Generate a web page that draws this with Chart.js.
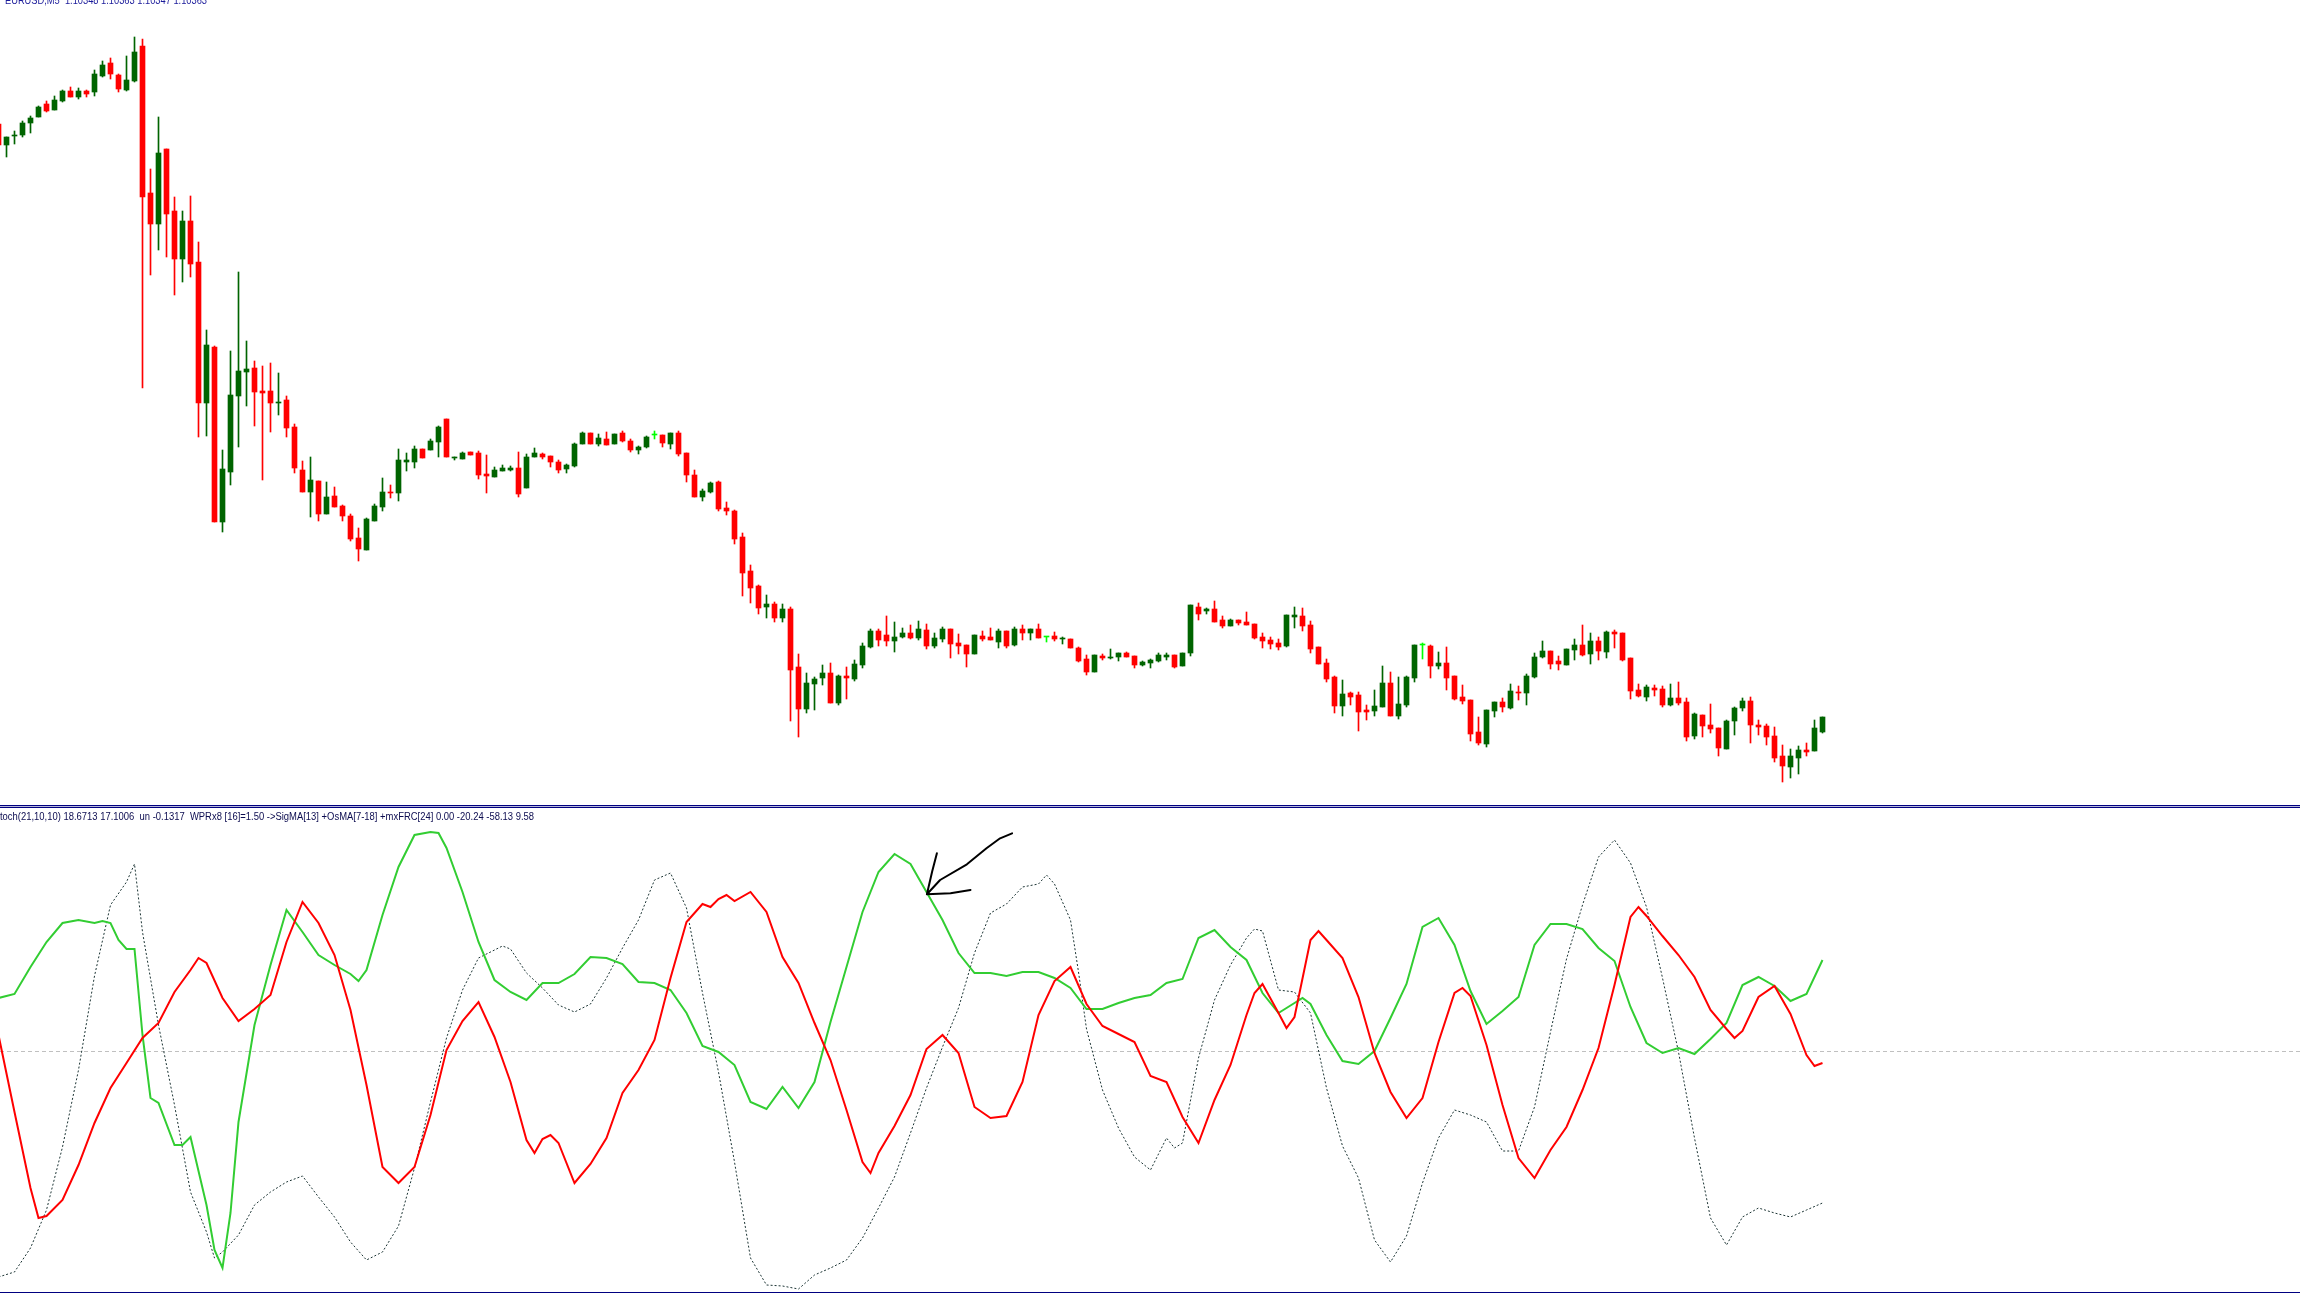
<!DOCTYPE html>
<html>
<head>
<meta charset="utf-8">
<script src="https://cdn.jsdelivr.net/npm/chart.js"></script>
<style>
  html, body { margin: 0; padding: 0; background: #ffffff; }
  body { width: 2300px; height: 1294px; position: relative; overflow: hidden; }
  canvas { position: absolute; left: 0; }
  #price { top: 0; }
  #osc { top: 808px; }
  .label { position: absolute; font-family: "Liberation Sans", Arial, sans-serif; font-size: 10px; line-height: 10px; white-space: pre; transform-origin: 0 0; }
  #priceLabel { left: 5px; top: -4px; color: #1a1a9a; }
  #oscLabel { left: 0; top: 812px; color: #0c0c50; }
  .rule { position: absolute; left: 0; width: 2300px; height: 1px; background: #000080; }
</style>
</head>
<body>
<canvas id="price" width="2300" height="804"></canvas>
<div class="rule" style="top:805px"></div>
<div class="rule" style="top:806px;background:#b8b8d8"></div>
<div class="rule" style="top:807px"></div>
<canvas id="osc" width="2300" height="484"></canvas>
<div class="rule" style="top:1292px"></div>
<div class="label" id="priceLabel">EURUSD,M5  1.10348 1.10363 1.10347 1.10363</div>
<div class="label" id="oscLabel">toch(21,10,10) 18.6713 17.1006  un -0.1317  WPRx8 [16]=1.50 -&gt;SigMA[13] +OsMA[7-18] +mxFRC[24] 0.00 -20.24 -58.13 9.58</div>
<script>
// EURUSD M5 candles, one entry per bar
var open = [1.10956,1.10935,1.10944,1.10945,1.10957,1.10963,1.10976,1.10970,1.10979,1.10989,
1.10983,1.10989,1.10988,1.11004,1.11017,1.11005,1.10990,1.10999,1.11034,1.10887,
1.10856,1.10931,1.10869,1.10821,1.10859,1.10818,1.10677,1.10733,1.10558,1.10608,
1.10684,1.10708,1.10712,1.10689,1.10689,1.10677,1.10680,1.10653,1.10610,1.10588,
1.10599,1.10566,1.10584,1.10574,1.10564,1.10542,1.10530,1.10559,1.10573,1.10588,
1.10587,1.10618,1.10618,1.10631,1.10630,1.10638,1.10661,1.10622,1.10621,1.10628,
1.10627,1.10606,1.10603,1.10609,1.10610,1.10612,1.10592,1.10623,1.10626,1.10624,
1.10618,1.10611,1.10614,1.10636,1.10647,1.10636,1.10641,1.10636,1.10647,1.10639,
1.10630,1.10633,1.10645,1.10645,1.10636,1.10647,1.10627,1.10605,1.10583,1.10588,
1.10598,1.10572,1.10569,1.10543,1.10509,1.10494,1.10473,1.10476,1.10462,1.10471,
1.10413,1.10371,1.10396,1.10402,1.10407,1.10377,1.10404,1.10401,1.10415,1.10433,
1.10449,1.10445,1.10439,1.10443,1.10447,1.10442,1.10450,1.10434,1.10441,1.10451,
1.10437,1.10435,1.10426,1.10444,1.10443,1.10438,1.10449,1.10435,1.10451,1.10447,
1.10451,1.10443,1.10444,1.10441,1.10441,1.10432,1.10421,1.10408,1.10424,1.10422,
1.10423,1.10427,1.10424,1.10415,1.10417,1.10419,1.10423,1.10425,1.10414,1.10427,
1.10473,1.10469,1.10471,1.10460,1.10454,1.10460,1.10458,1.10456,1.10443,1.10440,
1.10437,1.10434,1.10463,1.10464,1.10455,1.10433,1.10417,1.10403,1.10374,1.10387,
1.10385,1.10370,1.10369,1.10373,1.10397,1.10364,1.10375,1.10402,1.10435,1.10434,
1.10414,1.10417,1.10404,1.10383,1.10380,1.10348,1.10336,1.10369,1.10378,1.10372,
1.10388,1.10387,1.10403,1.10423,1.10429,1.10419,1.10415,1.10430,1.10435,1.10426,
1.10439,1.10428,1.10448,1.10447,1.10422,1.10390,1.10383,1.10392,1.10391,1.10375,
1.10382,1.10378,1.10344,1.10365,1.10355,1.10352,1.10331,1.10359,1.10372,1.10379,
1.10355,1.10354,1.10344,1.10324,1.10313,1.10322,1.10330,1.10329,1.10348];

var high = [1.10958,1.10943,1.10949,1.10959,1.10964,1.10974,1.10979,1.10984,1.10990,1.10993,
1.10992,1.10990,1.11010,1.11019,1.11022,1.11006,1.11024,1.11043,1.11041,1.10911,
1.10963,1.10931,1.10883,1.10869,1.10884,1.10838,1.10750,1.10734,1.10630,1.10729,
1.10808,1.10739,1.10719,1.10714,1.10717,1.10707,1.10684,1.10656,1.10619,1.10623,
1.10599,1.10598,1.10593,1.10575,1.10566,1.10552,1.10562,1.10576,1.10602,1.10595,
1.10631,1.10627,1.10634,1.10631,1.10641,1.10654,1.10661,1.10623,1.10628,1.10628,
1.10629,1.10625,1.10613,1.10615,1.10614,1.10628,1.10626,1.10632,1.10627,1.10624,
1.10620,1.10616,1.10637,1.10648,1.10647,1.10646,1.10648,1.10646,1.10649,1.10641,
1.10634,1.10644,1.10649,1.10645,1.10647,1.10649,1.10627,1.10610,1.10591,1.10598,
1.10599,1.10578,1.10570,1.10547,1.10515,1.10495,1.10485,1.10478,1.10476,1.10473,
1.10426,1.10407,1.10403,1.10415,1.10417,1.10405,1.10413,1.10420,1.10437,1.10451,
1.10451,1.10464,1.10458,1.10452,1.10455,1.10459,1.10456,1.10447,1.10453,1.10451,
1.10446,1.10435,1.10445,1.10449,1.10452,1.10451,1.10449,1.10453,1.10455,1.10451,
1.10456,1.10443,1.10448,1.10443,1.10441,1.10433,1.10425,1.10425,1.10426,1.10431,
1.10427,1.10428,1.10424,1.10419,1.10421,1.10427,1.10427,1.10425,1.10427,1.10475,
1.10477,1.10472,1.10479,1.10464,1.10461,1.10460,1.10468,1.10456,1.10447,1.10443,
1.10441,1.10465,1.10473,1.10472,1.10459,1.10433,1.10421,1.10404,1.10400,1.10388,
1.10388,1.10375,1.10390,1.10414,1.10408,1.10403,1.10404,1.10435,1.10437,1.10435,
1.10428,1.10433,1.10404,1.10395,1.10380,1.10363,1.10370,1.10378,1.10382,1.10396,
1.10394,1.10406,1.10427,1.10439,1.10429,1.10424,1.10431,1.10441,1.10455,1.10447,
1.10443,1.10449,1.10450,1.10447,1.10422,1.10396,1.10395,1.10395,1.10394,1.10396,
1.10398,1.10382,1.10367,1.10365,1.10376,1.10352,1.10360,1.10373,1.10382,1.10383,
1.10360,1.10356,1.10353,1.10335,1.10331,1.10334,1.10337,1.10360,1.10363];

var low = [1.10933,1.10923,1.10936,1.10943,1.10947,1.10963,1.10968,1.10970,1.10978,1.10983,
1.10981,1.10983,1.10984,1.11003,1.11001,1.10988,1.10989,1.10998,1.10692,1.10805,
1.10830,1.10823,1.10785,1.10798,1.10803,1.10643,1.10644,1.10558,1.10548,1.10595,
1.10633,1.10674,1.10654,1.10600,1.10648,1.10665,1.10643,1.10607,1.10588,1.10563,
1.10559,1.10566,1.10573,1.10559,1.10539,1.10519,1.10530,1.10559,1.10569,1.10582,
1.10579,1.10609,1.10612,1.10622,1.10630,1.10623,1.10623,1.10620,1.10621,1.10625,
1.10601,1.10587,1.10603,1.10609,1.10609,1.10583,1.10592,1.10623,1.10621,1.10613,
1.10607,1.10607,1.10613,1.10636,1.10636,1.10634,1.10635,1.10636,1.10638,1.10628,
1.10626,1.10632,1.10641,1.10633,1.10631,1.10624,1.10598,1.10583,1.10579,1.10587,
1.10569,1.10565,1.10536,1.10484,1.10477,1.10466,1.10462,1.10458,1.10458,1.10359,
1.10343,1.10367,1.10370,1.10395,1.10377,1.10375,1.10381,1.10399,1.10412,1.10432,
1.10434,1.10434,1.10428,1.10442,1.10441,1.10440,1.10431,1.10432,1.10438,1.10422,
1.10426,1.10413,1.10426,1.10439,1.10440,1.10432,1.10432,1.10434,1.10440,1.10440,
1.10442,1.10438,1.10439,1.10436,1.10432,1.10418,1.10405,1.10408,1.10420,1.10421,
1.10419,1.10423,1.10412,1.10414,1.10412,1.10418,1.10420,1.10412,1.10414,1.10424,
1.10460,1.10466,1.10458,1.10452,1.10454,1.10455,1.10455,1.10441,1.10432,1.10431,
1.10430,1.10433,1.10452,1.10449,1.10427,1.10416,1.10398,1.10367,1.10364,1.10375,
1.10349,1.10360,1.10364,1.10373,1.10364,1.10361,1.10373,1.10398,1.10421,1.10402,
1.10411,1.10390,1.10380,1.10376,1.10339,1.10335,1.10333,1.10363,1.10368,1.10371,
1.10380,1.10375,1.10402,1.10422,1.10411,1.10410,1.10415,1.10420,1.10424,1.10416,
1.10420,1.10422,1.10432,1.10419,1.10381,1.10383,1.10379,1.10384,1.10373,1.10374,
1.10375,1.10339,1.10341,1.10343,1.10347,1.10324,1.10331,1.10345,1.10369,1.10337,
1.10345,1.10335,1.10318,1.10298,1.10302,1.10306,1.10324,1.10329,1.10347];

var close = [1.10935,1.10943,1.10945,1.10957,1.10962,1.10973,1.10969,1.10980,1.10989,1.10983,
1.10989,1.10986,1.11006,1.11015,1.11006,1.10991,1.11000,1.11028,1.10883,1.10856,
1.10927,1.10866,1.10821,1.10859,1.10816,1.10677,1.10735,1.10558,1.10611,1.10685,
1.10709,1.10711,1.10688,1.10687,1.10677,1.10678,1.10652,1.10612,1.10588,1.10600,
1.10566,1.10583,1.10573,1.10564,1.10541,1.10531,1.10561,1.10574,1.10588,1.10587,
1.10620,1.10620,1.10631,1.10622,1.10639,1.10653,1.10623,1.10623,1.10627,1.10625,
1.10605,1.10604,1.10610,1.10612,1.10612,1.10586,1.10623,1.10627,1.10623,1.10618,
1.10610,1.10615,1.10636,1.10647,1.10636,1.10642,1.10635,1.10646,1.10639,1.10630,
1.10633,1.10643,1.10645,1.10637,1.10647,1.10626,1.10605,1.10583,1.10589,1.10597,
1.10571,1.10569,1.10541,1.10507,1.10492,1.10472,1.10476,1.10462,1.10471,1.10410,
1.10371,1.10397,1.10401,1.10407,1.10377,1.10404,1.10402,1.10416,1.10434,1.10449,
1.10440,1.10439,1.10443,1.10447,1.10442,1.10451,1.10434,1.10442,1.10451,1.10436,
1.10434,1.10426,1.10445,1.10441,1.10440,1.10449,1.10434,1.10451,1.10447,1.10451,
1.10442,1.10443,1.10441,1.10442,1.10432,1.10419,1.10408,1.10425,1.10422,1.10423,
1.10427,1.10423,1.10415,1.10418,1.10420,1.10425,1.10425,1.10413,1.10427,1.10475,
1.10466,1.10471,1.10458,1.10454,1.10460,1.10457,1.10455,1.10442,1.10439,1.10436,
1.10433,1.10465,1.10465,1.10454,1.10431,1.10416,1.10401,1.10374,1.10386,1.10383,
1.10368,1.10368,1.10374,1.10397,1.10364,1.10376,1.10403,1.10435,1.10435,1.10414,
1.10417,1.10402,1.10381,1.10379,1.10346,1.10337,1.10370,1.10378,1.10373,1.10389,
1.10387,1.10404,1.10423,1.10429,1.10416,1.10416,1.10431,1.10435,1.10425,1.10439,
1.10429,1.10448,1.10446,1.10420,1.10389,1.10384,1.10393,1.10390,1.10375,1.10382,
1.10377,1.10343,1.10366,1.10354,1.10351,1.10332,1.10359,1.10372,1.10379,1.10355,
1.10353,1.10343,1.10322,1.10314,1.10324,1.10330,1.10328,1.10352,1.10363];

// oscillator window, [bar, value] pairs
var greenLine = [[0,53],[2,57],[4,84],[6,109],[8,128],[10,131],[12,128],[13,130],[14,128],[15,111],
[16,102],[17,102],[18,16],[19,-47],[20,-52],[22,-94],[23,-94],[24,-86],[26,-154],[27,-199],
[28,-217],[29,-162],[30,-71],[32,26],[34,86],[36,141],[38,119],[40,96],[42,86],[44,77],
[45,70],[46,81],[48,136],[50,184],[52,216],[54,219],[55,218],[56,203],[58,159],[60,109],
[62,71],[64,59],[66,51],[68,68],[70,68],[72,77],[74,94],[76,93],[78,87],[80,69],
[82,68],[84,61],[86,38],[88,5],[90,-1],[92,-14],[94,-51],[96,-58],[98,-36],[100,-57],
[102,-31],[104,29],[106,84],[108,139],[110,179],[112,197],[114,187],[116,159],[118,131],[120,98],
[122,78],[124,78],[126,75],[128,79],[130,79],[132,73],[134,63],[136,42],[138,42],[140,48],
[142,53],[144,56],[146,68],[148,72],[150,113],[152,121],[154,104],[156,91],[158,58],[160,38],
[162,48],[163,53],[164,47],[166,16],[168,-10],[170,-13],[172,0],[174,33],[176,67],[178,124],
[180,133],[182,106],[184,60],[186,27],[188,40],[190,54],[192,106],[194,127],[196,127],[198,122],
[200,103],[202,90],[204,44],[206,8],[208,-2],[210,3],[212,-3],[214,12],[216,28],[218,66],
[220,74],[222,65],[224,50],[226,57],[228,91]];

var redLine = [[0,16],[2,-61],[4,-137],[5,-167],[6,-165],[8,-149],[10,-114],[12,-72],[14,-37],[16,-12],
[18,13],[20,28],[22,59],[24,81],[25,93],[26,88],[28,53],[30,30],[32,42],[34,56],
[36,109],[38,149],[40,128],[42,96],[44,41],[46,-34],[48,-116],[50,-132],[52,-116],[54,-64],
[56,1],[58,30],[60,49],[62,14],[64,-31],[66,-89],[67,-102],[68,-88],[69,-84],[70,-92],
[72,-132],[74,-113],[76,-87],[78,-42],[80,-19],[82,11],[84,73],[86,129],[88,147],[89,144],
[90,152],[91,156],[92,150],[94,159],[96,139],[98,94],[100,68],[102,28],[104,-9],[106,-59],
[108,-111],[109,-122],[110,-102],[112,-75],[114,-44],[116,2],[118,16],[120,-2],[122,-56],[124,-67],
[126,-65],[128,-31],[130,36],[132,70],[134,84],[136,47],[138,25],[140,17],[142,9],[144,-25],
[146,-31],[148,-66],[150,-92],[152,-49],[154,-14],[156,36],[157,58],[158,67],[160,38],[161,23],
[162,34],[164,111],[165,120],[166,111],[168,93],[170,54],[172,-2],[174,-41],[176,-67],[178,-47],
[180,9],[182,58],[183,63],[184,55],[186,6],[188,-54],[190,-107],[192,-127],[194,-99],[196,-76],
[198,-39],[200,3],[202,66],[204,134],[205,144],[206,135],[208,115],[210,96],[212,74],[214,41],
[216,22],[217,13],[218,20],[220,54],[222,65],[224,37],[226,-4],[227,-15],[228,-12]];

var grayLine = [[0,-226],[2,-221],[4,-197],[6,-159],[8,-96],[10,-19],[12,75],[14,146],[16,169],[17,187],
[18,119],[20,26],[22,-54],[24,-141],[26,-181],[27,-207],[28,-201],[30,-184],[32,-154],[34,-141],
[36,-131],[38,-125],[40,-146],[42,-166],[44,-191],[46,-209],[48,-201],[50,-175],[52,-117],[54,-51],
[56,13],[58,61],[60,93],[62,101],[63,105],[64,102],[66,78],[68,63],[70,46],[72,39],
[74,47],[76,73],[78,103],[80,131],[82,171],[84,178],[86,143],[88,58],[90,-21],[92,-111],
[94,-207],[96,-234],[98,-235],[100,-238],[102,-224],[104,-217],[106,-209],[108,-187],[110,-157],[112,-126],
[114,-82],[116,-37],[118,4],[120,43],[122,98],[124,138],[126,147],[128,164],[130,167],[131,176],
[132,167],[134,131],[135,79],[136,22],[138,-39],[140,-77],[142,-106],[144,-119],[146,-87],[147,-97],
[148,-92],[150,-7],[152,51],[154,86],[156,113],[157,122],[158,120],[160,61],[162,59],[164,38],
[166,-37],[168,-95],[170,-127],[172,-189],[174,-211],[176,-185],[178,-132],[180,-87],[182,-59],[184,-64],
[186,-71],[188,-100],[190,-100],[192,-56],[194,19],[196,92],[198,146],[200,194],[202,211],[204,188],
[206,144],[208,73],[210,-1],[212,-87],[214,-167],[216,-194],[218,-166],[220,-157],[222,-162],[224,-166],
[226,-159],[228,-152]];

// hand drawn arrow on the indicator window
var arrowLine = [[126.7,217.7],[125.2,212.7],[123.5,202.7],[121.05,186.7],[117.7,171],[116.05,156.7],
[116.7,179.3],[117.3,197.7],[116.7,179.3],[116.05,156.7],[119,157.7],[121.5,161]];

var levels = [0];

var xMin = 0.1875, xMax = 287.6875;

function candleColor(i) {
  if (close[i] > open[i]) return '#006400';
  if (close[i] < open[i]) return '#ff0000';
  return '#00ff00';
}

function toPoints(list) {
  return list.map(function (p) { return { x: p[0], y: p[1] }; });
}

function printCandles() {
  var colors = open.map(function (o, i) { return candleColor(i); });
  new Chart(document.getElementById('price'), {
    type: 'bar',
    data: {
      datasets: [{
        label: 'wick',
        data: open.map(function (o, i) { return { x: i, y: [low[i], high[i]] }; }),
        backgroundColor: colors,
        barThickness: 1,
        minBarLength: 1,
        grouped: false,
        order: 2
      }, {
        label: 'body',
        data: open.map(function (o, i) { return { x: i, y: [o, close[i]] }; }),
        backgroundColor: colors,
        barThickness: 5,
        minBarLength: 1,
        grouped: false,
        order: 1
      }]
    },
    options: {
      responsive: false,
      animation: false,
      devicePixelRatio: 1,
      layout: { padding: 0 },
      plugins: { legend: { display: false }, tooltip: { enabled: false } },
      scales: {
        x: { type: 'linear', min: xMin, max: xMax, offset: false, display: false },
        y: { type: 'linear', min: 1.10276, max: 1.11080, beginAtZero: false, display: false }
      }
    }
  });
}

var levelLines = {
  id: 'levelLines',
  beforeDatasetsDraw: function (chart) {
    var ctx = chart.ctx, area = chart.chartArea;
    ctx.save();
    ctx.strokeStyle = '#c0c0c0';
    ctx.lineWidth = 1;
    ctx.setLineDash([4, 3]);
    levels.forEach(function (v) {
      var y = Math.round(chart.scales.y.getPixelForValue(v)) + 0.5;
      ctx.beginPath();
      ctx.moveTo(area.left, y);
      ctx.lineTo(area.right, y);
      ctx.stroke();
    });
    ctx.restore();
  }
};

function printOscillator() {
  new Chart(document.getElementById('osc'), {
    type: 'line',
    data: {
      datasets: [{
        data: toPoints(grayLine),
        borderColor: '#1c3434',
        borderWidth: 1,
        borderDash: [2, 2],
        order: 4
      }, {
        data: toPoints(greenLine),
        borderColor: '#32cd32',
        borderWidth: 2,
        order: 3
      }, {
        data: toPoints(redLine),
        borderColor: '#ff0000',
        borderWidth: 2,
        order: 2
      }, {
        data: toPoints(arrowLine),
        borderColor: '#000000',
        borderWidth: 2,
        borderCapStyle: 'round',
        borderJoinStyle: 'round',
        order: 1
      }]
    },
    options: {
      responsive: false,
      animation: false,
      devicePixelRatio: 1,
      layout: { padding: 0 },
      elements: { point: { radius: 0 }, line: { tension: 0, fill: false } },
      plugins: { legend: { display: false }, tooltip: { enabled: false } },
      scales: {
        x: { type: 'linear', min: xMin, max: xMax, display: false },
        y: { type: 'linear', min: -241, max: 243, display: false }
      }
    },
    plugins: [levelLines]
  });
}

function fitText(id, width) {
  var el = document.getElementById(id);
  var w = el.getBoundingClientRect().width;
  if (w > 0) el.style.transform = 'scaleX(' + (width / w) + ')';
}

printCandles();
printOscillator();
fitText('priceLabel', 202);
fitText('oscLabel', 534);
</script>
</body>
</html>
